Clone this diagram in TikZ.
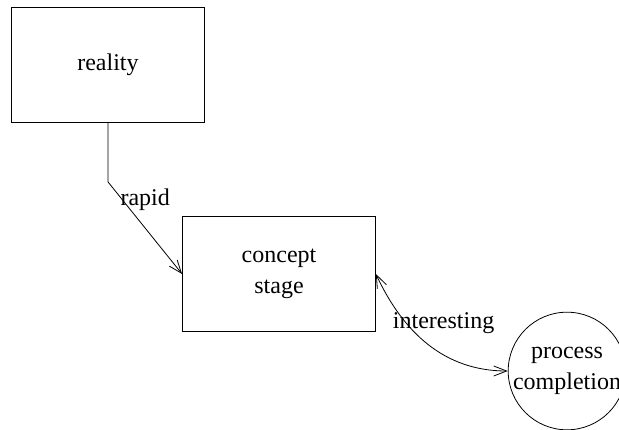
\documentclass[tikz,border=0pt]{standalone}
\usepackage{fontspec}
\setmainfont{Liberation Serif}
\usetikzlibrary{positioning, arrows.meta}

\begin{document}
\begin{tikzpicture}[
  x=1pt, y=-1pt,
  font=\rmfamily\fontsize{24}{31}\selectfont,
  line width=0.8pt,
  stagebox/.style={draw, align=center, inner sep=0pt,
                   minimum width=193pt, minimum height=115pt},
  endcirc/.style={draw, circle, align=center, inner sep=0pt, minimum size=113pt},
  barb/.style={-{Straight Barb[length=13pt, width=10pt]}},
  dbarb/.style={{Straight Barb[length=13pt, width=10pt]}-{Straight Barb[length=13pt, width=10pt]}}
]
  \useasboundingbox (0,0) rectangle (619,430);

  % Boxes
  \node[stagebox] (reality) at (108, 65) {reality};
  \node[stagebox] (concept) at (279, 274) {concept\\stage};
  \node[endcirc] (proc) at (567, 371) {process\\completion};

  % Connectors
  \coordinate[below=59pt of reality.south] (bend);
  \draw[barb] (reality.south) -- (bend) -- (concept.west)
    node[pos=0.3, xshift=15pt, yshift=10pt] (rapidlbl) {rapid};
  \draw[dbarb] (concept.east) to[out=-65, in=180]
    node[pos=0.3, right=-15pt, yshift=-3pt] (intlbl) {interesting} (proc.west);
\end{tikzpicture}
\end{document}
